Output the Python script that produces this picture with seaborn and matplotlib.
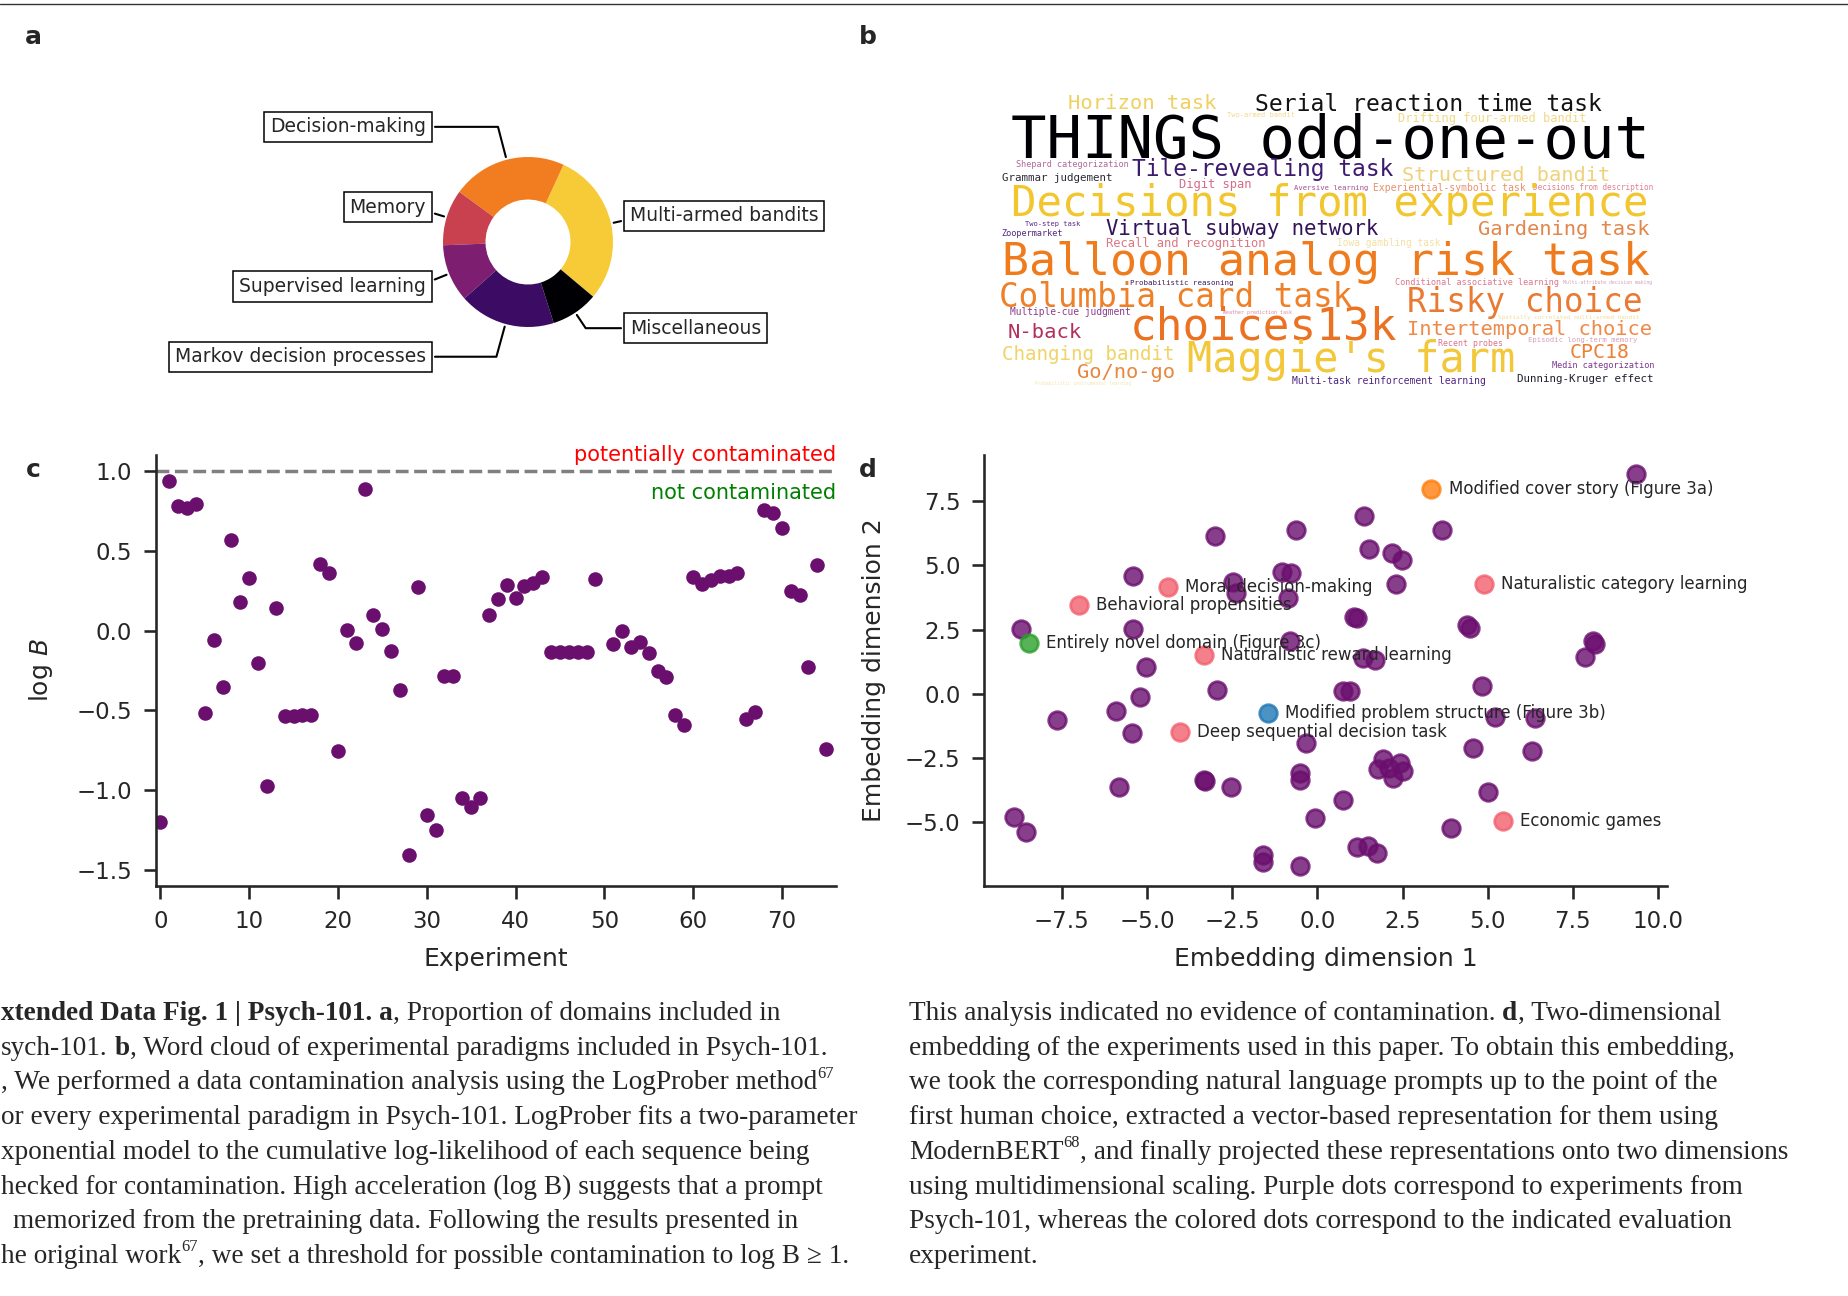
import matplotlib
matplotlib.use("Agg")
import matplotlib.pyplot as plt
import seaborn as sns
import numpy as np
from matplotlib.lines import Line2D

W, H, DPI = 1849, 1296, 100

# ---------------- panel a: domains in Psych-101 ----------------
domains = ["Multi-armed bandits", "Decision-making", "Memory",
           "Supervised learning", "Markov decision processes", "Miscellaneous"]
domain_share = [29.25, 21.83, 10.64, 10.94, 18.33, 9.0]
domain_colors = ["#f7cb38", "#f27d20", "#c9404e", "#7d1e70", "#3c0c64", "#000004"]

# ---------------- panel b: word cloud ----------------
words = ["Horizon task", "Serial reaction time task", "Two-armed bandit",
         "Drifting four-armed bandit", "THINGS odd-one-out", "Shepard categorization",
         "Tile-revealing task", "Structured bandit", "Grammar judgement", "Digit span",
         "Aversive learning", "Experiential-symbolic task", "Decisions from description",
         "Decisions from experience", "Two-step task", "Zoopermarket",
         "Virtual subway network", "Gardening task", "Recall and recognition",
         "Iowa gambling task", "Balloon analog risk task", "Probabilistic reasoning",
         "Conditional associative learning", "Multi-attribute decision making",
         "Columbia card task", "Risky choice", "Multiple-cue judgment",
         "Weather prediction task", "Spatially correlated multi-armed bandit", "N-back",
         "choices13k", "Intertemporal choice", "Episodic long-term memory",
         "Recent probes", "Changing bandit", "Maggie's farm", "CPC18",
         "Medin categorization", "Go/no-go", "Multi-task reinforcement learning",
         "Dunning-Kruger effect", "Probabilistic instrumental learning"]
word_colors = ["#efd060", "#141414", "#f3d98c", "#f1d98a", "#000004", "#b0689a",
               "#3d1a6e", "#efd27c", "#2b2b38", "#d56c8a", "#a4508f", "#e8906c",
               "#de8290", "#f2c62f", "#5c2a86", "#4f2a7a", "#331459", "#e2874c",
               "#dc7684", "#f4e0a2", "#ef7b1c", "#3b1a5a", "#d9788c", "#d7a0b8",
               "#ee8028", "#e97a33", "#8a3d8c", "#dd8aa6", "#f3dc9c", "#b3305c",
               "#eb7222", "#ee8a4a", "#d7a0bc", "#d8748c", "#f0d468", "#f2c73a",
               "#ec8034", "#7b3690", "#e8873e", "#4e2580", "#1f1f2f", "#f5e4ac"]
# layout in figure pixels: left edge, middle of letters, text width
word_layout = [(1068, 102, 148), (1255, 103, 347), (1227, 114, 68), (1398, 118, 188),
               (1011, 136, 638), (1016, 164, 112), (1132, 168, 262), (1402, 174, 208),
               (1002, 177, 111), (1179, 184, 73), (1294, 187, 74), (1373, 187, 153),
               (1533, 187, 121), (1011, 201, 638), (1025, 223, 56), (1001, 233, 61),
               (1106, 228, 273), (1478, 228, 172), (1106, 243, 160), (1337, 243, 103),
               (1002, 259, 648), (1130, 282, 103), (1395, 282, 163), (1563, 282, 90),
               (999, 295, 354), (1407, 300, 235), (1010, 312, 122), (1223, 312, 70),
               (1498, 317, 142), (1008, 331, 74), (1130, 324, 267), (1407, 328, 245),
               (1528, 339, 110), (1438, 343, 65), (1002, 353, 173), (1187, 357, 328),
               (1570, 351, 60), (1552, 365, 102), (1077, 371, 98), (1292, 381, 193),
               (1517, 378, 138), (1035, 383, 95)]

# ---------------- panel c: contamination analysis ----------------
experiment = list(range(50)) + list(range(51, 76))
log_b = [-1.20, 0.94, 0.78, 0.77, 0.79, -0.515, -0.058, -0.355, 0.565, 0.176,
         0.33, -0.203, -0.971, 0.143, -0.533, -0.533, -0.527, -0.527, 0.42, 0.36,
         -0.757, 0.002, -0.08, 0.884, 0.098, 0.007, -0.125, -0.373, -1.404, 0.27,
         -1.154, -1.252, -0.283, -0.283, -1.047, -1.103, -1.051, 0.096, 0.199, 0.286,
         0.203, 0.277, 0.297, 0.333, -0.136, -0.136, -0.136, -0.136, -0.136, 0.321,
         -0.087, -0.002, -0.105, -0.069, -0.143, -0.254, -0.288, -0.527, -0.589, 0.337,
         0.292, 0.315, 0.342, 0.342, 0.36, -0.556, -0.511, 0.757, 0.734, 0.645,
         0.248, 0.221, -0.228, 0.411, -0.741]

# ---------------- panel d: embedding ----------------
psych_x = [9.34, 1.38, -0.64, 3.65, -2.99, 1.53, 2.18, 2.47, -5.40, -1.04,
           -0.78, 2.32, -2.47, -2.39, -0.85, 1.08, 1.16, 4.40, 4.49, -8.68,
           -5.40, -0.80, 8.08, 8.14, 7.85, 1.34, 1.69, -5.03, -2.95, 0.75,
           0.97, 4.82, -5.21, -5.92, -7.63, -5.45, 5.21, 6.39, -0.33, 4.58,
           6.29, 1.94, 2.43, 1.79, 2.23, 2.52, 2.10, -3.30, -3.33, -2.52,
           -0.50, -0.50, -5.83, 0.74, 5.00, -8.89, -8.55, -0.06, 3.92, 1.16,
           1.50, 1.74, -1.60, -1.60, -0.50]
psych_y = [8.55, 6.94, 6.38, 6.36, 6.13, 5.65, 5.48, 5.21, 4.60, 4.74,
           4.72, 4.28, 4.35, 3.93, 3.72, 2.98, 2.95, 2.68, 2.57, 2.51,
           2.51, 2.06, 2.06, 1.92, 1.44, 1.39, 1.33, 1.04, 0.15, 0.09,
           0.09, 0.31, -0.13, -0.69, -1.04, -1.53, -0.90, -0.95, -1.90, -2.12,
           -2.22, -2.55, -2.68, -2.94, -3.27, -3.01, -2.90, -3.40, -3.38, -3.64,
           -3.10, -3.35, -3.64, -4.14, -3.83, -4.82, -5.38, -4.86, -5.22, -5.99,
           -5.93, -6.20, -6.28, -6.56, -6.71]
eval_names = ["Modified cover story (Figure 3a)", "Naturalistic category learning",
              "Moral decision-making", "Behavioral propensities",
              "Entirely novel domain (Figure 3c)", "Naturalistic reward learning",
              "Modified problem structure (Figure 3b)", "Deep sequential decision task",
              "Economic games"]
eval_x = [3.35, 4.90, -4.38, -6.99, -8.46, -3.32, -1.45, -4.04, 5.45]
eval_y = [7.98, 4.26, 4.14, 3.44, 1.99, 1.50, -0.76, -1.49, -4.97]
eval_colors = ["#ff7f0e", "#f2606f", "#f2606f", "#f2606f", "#2ca02c",
               "#f2606f", "#1f77b4", "#f2606f", "#f2606f"]

PURPLE = "#6b0f6e"

# ---------------- caption ----------------
caption_left = [
    [("xtended Data Fig. 1 | Psych-101. a", "b"), (", Proportion of domains included in", "n")],
    [("sych-101.", "n"), (" b", "b"), (", Word cloud of experimental paradigms included in Psych-101.", "n")],
    [(", We performed a data contamination analysis using the LogProber method", "n"), ("67", "s")],
    [("or every experimental paradigm in Psych-101. LogProber fits a two-parameter", "n")],
    [("xponential model to the cumulative log-likelihood of each sequence being", "n")],
    [("hecked for contamination. High acceleration (log B) suggests that a prompt", "n")],
    [("memorized from the pretraining data. Following the results presented in", "n")],
    [("he original work", "n"), ("67", "s"), (", we set a threshold for possible contamination to log B \u2265 1.", "n")],
]
caption_left_x = [1, 1, 1, 1, 1, 1, 13, 1]
caption_right = [
    [("This analysis indicated no evidence of contamination.", "n"), (" d", "b"), (", Two-dimensional", "n")],
    [("embedding of the experiments used in this paper. To obtain this embedding,", "n")],
    [("we took the corresponding natural language prompts up to the point of the", "n")],
    [("first human choice, extracted a vector-based representation for them using", "n")],
    [("ModernBERT", "n"), ("68", "s"), (", and finally projected these representations onto two dimensions", "n")],
    [("using multidimensional scaling. Purple dots correspond to experiments from", "n")],
    [("Psych-101, whereas the colored dots correspond to the indicated evaluation", "n")],
    [("experiment.", "n")],
]

sns.set_style("ticks")
sns.set_context("talk")
plt.rcParams["font.family"] = ["DejaVu Sans"]

fig = plt.figure(figsize=(W / DPI, H / DPI), dpi=DPI)
renderer = fig.canvas.get_renderer()


def fx(x):
    return x / W


def fy(y):
    return 1 - y / H


def px_axes(left, top, right, bottom):
    return fig.add_axes([fx(left), fy(bottom), (right - left) / W, (bottom - top) / H])


# thin rule at the top of the page
fig.add_artist(Line2D([0, 1], [fy(4), fy(4)], color="#333333", lw=1.0))

# ---------------- a ----------------
R = 85.0
ax_a = px_axes(100, 60, 956, 424)
wedges, _ = ax_a.pie(domain_share, colors=domain_colors, startangle=-40,
                     radius=1, wedgeprops=dict(width=0.5, linewidth=0))
ax_a.set_aspect("auto")
ax_a.set_xlim(-428 / R, 428 / R)
ax_a.set_ylim(-182 / R, 182 / R)
ax_a.axis("off")
label_rise = [1.4, 1.4, 1.4, 1.4, 1.4, 1.22]
bbox_props = dict(boxstyle="square,pad=0.3", fc="w", ec="k", lw=1.1)
for i, p in enumerate(wedges):
    ang = (p.theta2 - p.theta1) / 2.0 + p.theta1
    y = np.sin(np.deg2rad(ang))
    x = np.cos(np.deg2rad(ang))
    ha = {-1: "right", 1: "left"}[int(np.sign(x))]
    ax_a.annotate(domains[i], xy=(x, y), xytext=(1.2 * np.sign(x), label_rise[i] * y),
                  ha=ha, va="center", fontsize=13.5, bbox=bbox_props, zorder=0,
                  arrowprops=dict(arrowstyle="-", lw=1.5, color="black",
                                  connectionstyle=f"angle,angleA=0,angleB={ang}"))

# ---------------- b: word cloud ----------------
for word, color, (x0, ymid, wpx) in zip(words, word_colors, word_layout):
    em = wpx / (len(word) * 0.602)
    fig.text(fx(x0), fy(ymid + 0.36 * em), word, family="DejaVu Sans Mono",
             fontsize=em * 72 / DPI, color=color, ha="left", va="baseline")

# ---------------- c ----------------
ax_c = px_axes(155.5, 455, 836, 886)
sns.scatterplot(x=experiment, y=log_b, color=PURPLE, s=110, linewidth=0, ax=ax_c)
ax_c.axhline(1.0, color="gray", ls="--", lw=2.5)
ax_c.set_xlim(-0.55, 76.1)
ax_c.set_ylim(-1.6, 1.1)
ax_c.set_yticks([-1.5, -1.0, -0.5, 0.0, 0.5, 1.0])
ax_c.set_xticks(range(0, 80, 10))
ax_c.set_xlabel("Experiment")
ax_c.set_ylabel("log $B$")
ax_c.annotate("potentially contaminated", xy=(1, 1.0), xycoords=("axes fraction", "data"),
              xytext=(0, 7.5), textcoords="offset points", ha="right", va="baseline",
              color="red", fontsize=15)
ax_c.annotate("not contaminated", xy=(1, 1.0), xycoords=("axes fraction", "data"),
              xytext=(0, -19.9), textcoords="offset points", ha="right", va="baseline",
              color="green", fontsize=15)

# ---------------- d ----------------
ax_d = px_axes(984, 455, 1667, 886)
sns.scatterplot(x=psych_x, y=psych_y, color=PURPLE, s=160, alpha=0.8,
                edgecolor=PURPLE, linewidth=2, ax=ax_d)
for name, ex, ey, col in zip(eval_names, eval_x, eval_y, eval_colors):
    ax_d.scatter([ex], [ey], s=160, color=col, alpha=0.8, edgecolor=col, linewidth=2)
    ax_d.text(ex + 0.5, ey, name, fontsize=12, va="center", ha="left")
ax_d.set_xlim(-9.78, 10.26)
ax_d.set_ylim(-7.49, 9.3)
ax_d.set_xticks(np.arange(-7.5, 10.1, 2.5))
ax_d.set_yticks(np.arange(-5.0, 7.6, 2.5))
ax_d.set_xlabel("Embedding dimension 1")
ax_d.set_ylabel("Embedding dimension 2")

for ax in (ax_c, ax_d):
    sns.despine(ax=ax)
    ax.tick_params(length=9, width=1.875, pad=8, labelsize=16.5)
    ax.xaxis.set_label_coords(0.5, -0.141)
ax_c.yaxis.set_label_coords(-0.148, 0.5)
ax_d.yaxis.set_label_coords(-0.143, 0.5)

# panel letters
for letter, (lx, ly) in zip("abcd", [(33, 37), (868, 37), (33, 470), (868, 470)]):
    fig.text(fx(lx), fy(ly), letter, fontsize=18, weight="bold", ha="center", va="center")

# ---------------- caption ----------------
CAP_FONT = ["Liberation Serif", "DejaVu Serif"]


def text_width(s, size, weight="normal"):
    t = fig.text(0, 0, s, fontsize=size, family=CAP_FONT, weight=weight)
    w = t.get_window_extent(renderer).width
    t.remove()
    return w


ref = caption_left[3][0][0]
cap_size = 18 * 858 / text_width(ref, 18)
space_w = text_width("n n", cap_size) - text_width("nn", cap_size)


def draw_runs(x, y, runs):
    for txt, style in runs:
        lead = len(txt) - len(txt.lstrip(" "))
        x += lead * space_w
        txt = txt.lstrip(" ")
        size, yy, weight = cap_size, y, "normal"
        if style == "b":
            weight = "bold"
        elif style == "s":
            size = cap_size * 0.6
            yy = y - cap_size * 0.42 * DPI / 72
        t = fig.text(fx(x), fy(yy), txt, fontsize=size, family=CAP_FONT, weight=weight,
                     ha="left", va="baseline")
        x += t.get_window_extent(renderer).width


for i, runs in enumerate(caption_left):
    draw_runs(caption_left_x[i], 1020 + 34.7 * i, runs)
for i, runs in enumerate(caption_right):
    draw_runs(909, 1020 + 34.7 * i, runs)

fig.savefig("out.png", dpi=DPI, facecolor="white")
